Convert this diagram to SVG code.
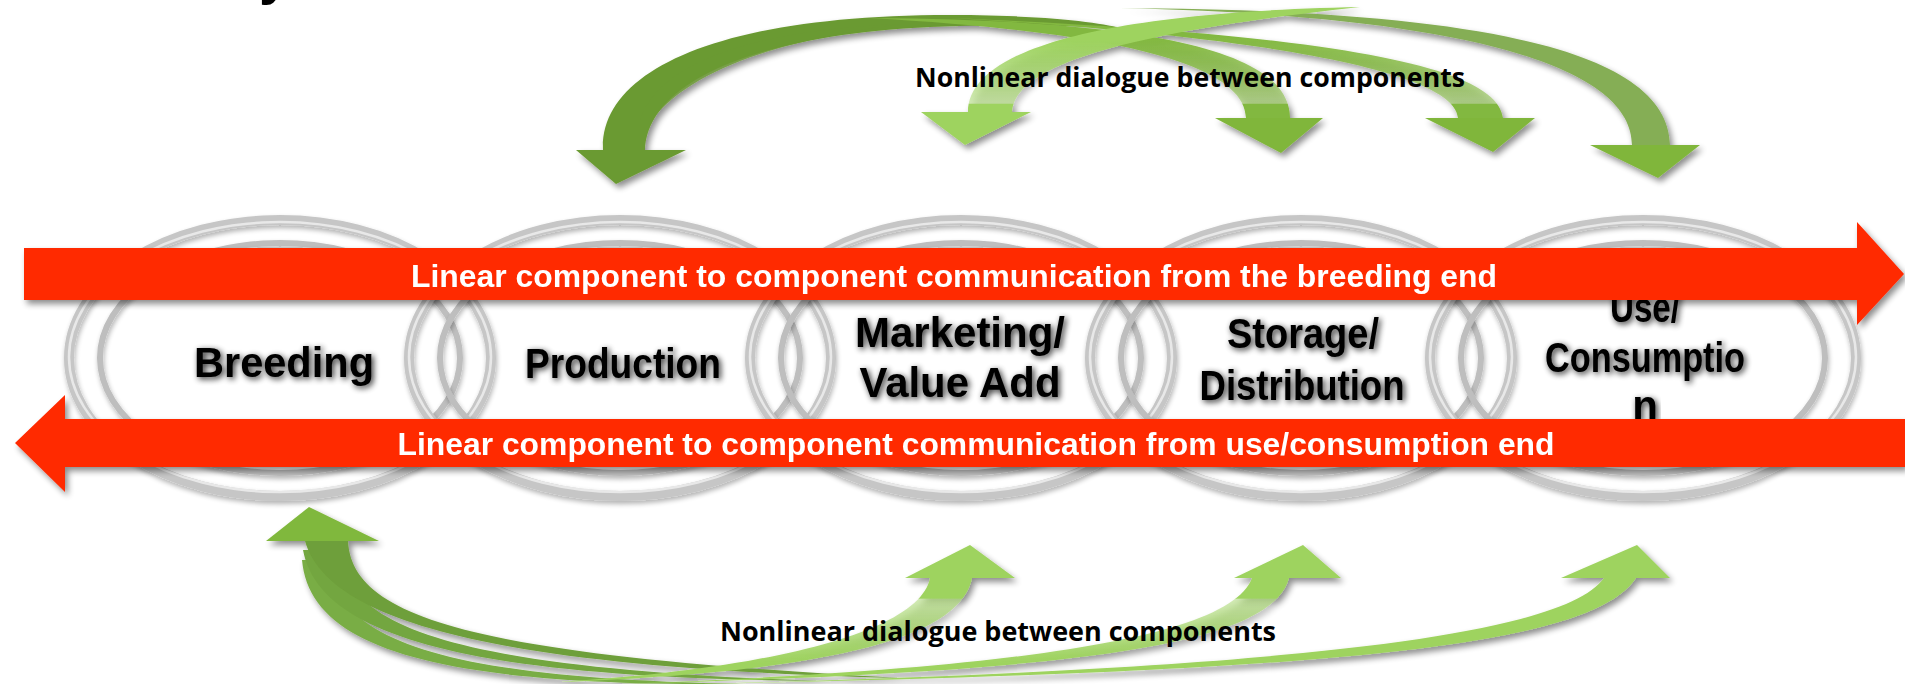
<svg xmlns="http://www.w3.org/2000/svg" width="1905" height="684" viewBox="0 0 1905 684">
<defs>
<style>
.ro{fill:none;stroke:#c6c6c6;stroke-width:10}
.rh{fill:none;stroke:#e8e8e8;stroke-width:2.5}
.ri{fill:none;stroke:#bebebe;stroke-width:6}
.lbl{font-family:"Liberation Sans",Arial,sans-serif;font-weight:bold;font-size:42px;fill:#000;text-anchor:middle}
.bt{font-family:"Liberation Sans",Arial,sans-serif;font-weight:bold;font-size:32px;fill:#fff;text-anchor:middle}
.nl{font-family:"Open Sans","Liberation Sans",sans-serif;font-weight:bold;font-size:26px;fill:#000}
.bar{fill:#ff2a00}
</style>
<filter id="sh" x="-10%" y="-20%" width="130%" height="160%">
<feGaussianBlur in="SourceAlpha" stdDeviation="3"/><feOffset dx="3" dy="4"/>
<feComponentTransfer><feFuncA type="linear" slope="0.45"/></feComponentTransfer>
<feMerge><feMergeNode/><feMergeNode in="SourceGraphic"/></feMerge></filter>
<filter id="rsh" x="-5%" y="-5%" width="110%" height="115%">
<feGaussianBlur in="SourceAlpha" stdDeviation="2.5"/><feOffset dx="1" dy="3"/>
<feComponentTransfer><feFuncA type="linear" slope="0.3"/></feComponentTransfer>
<feMerge><feMergeNode/><feMergeNode in="SourceGraphic"/></feMerge></filter>
<filter id="tg" x="-10%" y="-30%" width="120%" height="160%">
<feGaussianBlur in="SourceAlpha" stdDeviation="3"/><feOffset dx="2" dy="2"/>
<feComponentTransfer><feFuncA type="linear" slope="0.85"/></feComponentTransfer>
<feMerge><feMergeNode/><feMergeNode in="SourceGraphic"/></feMerge></filter>
<linearGradient id="gTopL" gradientUnits="userSpaceOnUse" x1="0" y1="0" x2="0" y2="120">
<stop offset="0" stop-color="#9ed35f"/><stop offset="0.33" stop-color="#9ed35f"/>
<stop offset="0.86" stop-color="#9ed35f" stop-opacity="0.45"/><stop offset="0.87" stop-color="#9ed35f"/><stop offset="1" stop-color="#9ed35f"/></linearGradient>
<linearGradient id="gTopM" gradientUnits="userSpaceOnUse" x1="0" y1="0" x2="0" y2="120">
<stop offset="0" stop-color="#82b83f"/><stop offset="0.3" stop-color="#82b83f"/>
<stop offset="0.86" stop-color="#82b83f" stop-opacity="0.5"/><stop offset="0.87" stop-color="#82b83f"/><stop offset="1" stop-color="#82b83f"/></linearGradient>
<linearGradient id="gBot" gradientUnits="userSpaceOnUse" x1="0" y1="578" x2="0" y2="684">
<stop offset="0" stop-color="#9ed35f"/><stop offset="0.19" stop-color="#9ed35f"/>
<stop offset="0.2" stop-color="#9ed35f" stop-opacity="0.45"/><stop offset="0.8" stop-color="#9ed35f"/><stop offset="1" stop-color="#9ed35f"/></linearGradient>
</defs>
<rect width="1905" height="684" fill="#fff"/>
<text x="259" y="-7" style="font-family:'Liberation Sans',Arial,sans-serif;font-weight:bold;font-size:56px" fill="#000">y</text>

<g id="node-breeding">
<g filter="url(#rsh)"><ellipse class="ro" cx="280" cy="358" rx="211" ry="138"/><ellipse class="rh" cx="280" cy="357" rx="211" ry="135"/><ellipse class="ri" cx="280" cy="358" rx="180" ry="115"/></g>
<text class="lbl" filter="url(#tg)" x="284" y="377" textLength="180" lengthAdjust="spacingAndGlyphs">Breeding</text>
</g>
<g id="node-production">
<g filter="url(#rsh)"><ellipse class="ro" cx="620" cy="358" rx="211" ry="138"/><ellipse class="rh" cx="620" cy="357" rx="211" ry="135"/><ellipse class="ri" cx="620" cy="358" rx="180" ry="115"/></g>
<text class="lbl" filter="url(#tg)" x="623" y="378" textLength="196" lengthAdjust="spacingAndGlyphs">Production</text>
</g>
<g id="node-marketing">
<g filter="url(#rsh)"><ellipse class="ro" cx="961" cy="358" rx="211" ry="138"/><ellipse class="rh" cx="961" cy="357" rx="211" ry="135"/><ellipse class="ri" cx="961" cy="358" rx="180" ry="115"/></g>
<text class="lbl" filter="url(#tg)" x="960" y="347" textLength="210" lengthAdjust="spacingAndGlyphs">Marketing/</text>
<text class="lbl" filter="url(#tg)" x="960" y="397" textLength="201" lengthAdjust="spacingAndGlyphs">Value Add</text>
</g>
<g id="node-storage">
<g filter="url(#rsh)"><ellipse class="ro" cx="1301" cy="358" rx="211" ry="138"/><ellipse class="rh" cx="1301" cy="357" rx="211" ry="135"/><ellipse class="ri" cx="1301" cy="358" rx="180" ry="115"/></g>
<text class="lbl" filter="url(#tg)" x="1303" y="348" textLength="152" lengthAdjust="spacingAndGlyphs">Storage/</text>
<text class="lbl" filter="url(#tg)" x="1302" y="400" textLength="205" lengthAdjust="spacingAndGlyphs">Distribution</text>
</g>
<g id="node-use">
<g filter="url(#rsh)"><ellipse class="ro" cx="1643" cy="358" rx="213" ry="138"/><ellipse class="rh" cx="1643" cy="357" rx="213" ry="135"/><ellipse class="ri" cx="1643" cy="358" rx="182" ry="115"/></g>
<text class="lbl" filter="url(#tg)" x="1645" y="322" textLength="70" lengthAdjust="spacingAndGlyphs">Use/</text>
<text class="lbl" filter="url(#tg)" x="1645" y="372" textLength="200" lengthAdjust="spacingAndGlyphs">Consumptio</text>
<text class="lbl" filter="url(#tg)" x="1645" y="420">n</text>
</g>

<g id="connectors">
<g id="linear-forward" filter="url(#sh)">
<polygon class="bar" points="24,248 1857,248 1857,222 1904,274 1857,325 1857,300 24,300"/>
<text class="bt" x="954" y="287" textLength="1086" lengthAdjust="spacingAndGlyphs">Linear component to component communication from the breeding end</text>
</g>
<g id="linear-backward" filter="url(#sh)">
<polygon class="bar" points="1905,419 65,419 65,395 15,443 65,492 65,467 1905,467"/>
<text class="bt" x="976" y="455" textLength="1157" lengthAdjust="spacingAndGlyphs">Linear component to component communication from use/consumption end</text>
</g>

<g id="top-arcs" filter="url(#sh)">
<path fill="#6b9a32" d="M603,150 C600,70 720,15 950,15 C1040,15 1100,22 1120,28 C1080,26 1000,24 930,27 C760,35 648,80 645,150 Z"/>
<path fill="#6b9a32" d="M640,120 C660,60 760,30 900,24 C780,40 690,70 652,120 Z" opacity="0.8"/>
<polygon fill="#6b9a32" points="576,150 686,150 616,184"/>
<path fill="#85ae55" d="M1670,145 C1668,55 1500,10 1120,8 C1480,16 1632,70 1632,145 Z"/>
<polygon fill="#80b63b" points="1590,145 1700,145 1658,178"/>
<path fill="url(#gTopM)" d="M1503,118 C1498,70 1360,35 950,18 C1250,35 1455,70 1458,118 Z"/>
<polygon fill="#80b63b" points="1425,118 1535,118 1493,152"/>
<path fill="url(#gTopM)" d="M1290,118 C1290,55 1170,20 870,18 C1120,32 1245,65 1246,118 Z"/>
<polygon fill="#80b63b" points="1215,118 1323,118 1281,153"/>
<path fill="url(#gTopL)" d="M968,112 C968,50 1100,12 1360,7 C1150,30 1015,60 1012,112 Z"/>
<polygon fill="#9ed35f" points="921,112 1031,112 965,145"/>
</g>

<g id="bottom-arcs" filter="url(#sh)">
<path fill="#79ad45" d="M330,560 C335,640 440,678 740,684 C440,686 310,650 302,560 Z"/>
<path fill="#73a640" d="M340,550 C345,630 460,668 820,681 C480,678 320,640 303,550 Z"/>
<path fill="#6e9f3a" d="M348,541 C352,620 480,655 900,678 C520,668 330,628 305,541 Z"/>
<polygon fill="#80b83c" points="309,507 379,541 266,541"/>
<path fill="url(#gBot)" d="M972,578 C960,640 820,672 560,682 C780,668 920,630 930,578 Z"/>
<polygon fill="#9ed35f" points="970,545 1015,578 905,578"/>
<path fill="url(#gBot)" d="M1289,578 C1270,650 1050,672 620,684 C1000,670 1230,640 1252,578 Z"/>
<polygon fill="#9ed35f" points="1303,545 1341,578 1234,578"/>
<path fill="#9ed35f" d="M1636,578 C1590,650 1300,672 700,684 C1250,670 1560,640 1604,578 Z"/>
<polygon fill="#9ed35f" points="1637,545 1670,578 1561,578"/>
</g>
</g>

<text class="nl" x="915" y="87" textLength="550" lengthAdjust="spacingAndGlyphs">Nonlinear dialogue between components</text>
<text class="nl" x="720" y="641" textLength="556" lengthAdjust="spacingAndGlyphs">Nonlinear dialogue between components</text>
</svg>
